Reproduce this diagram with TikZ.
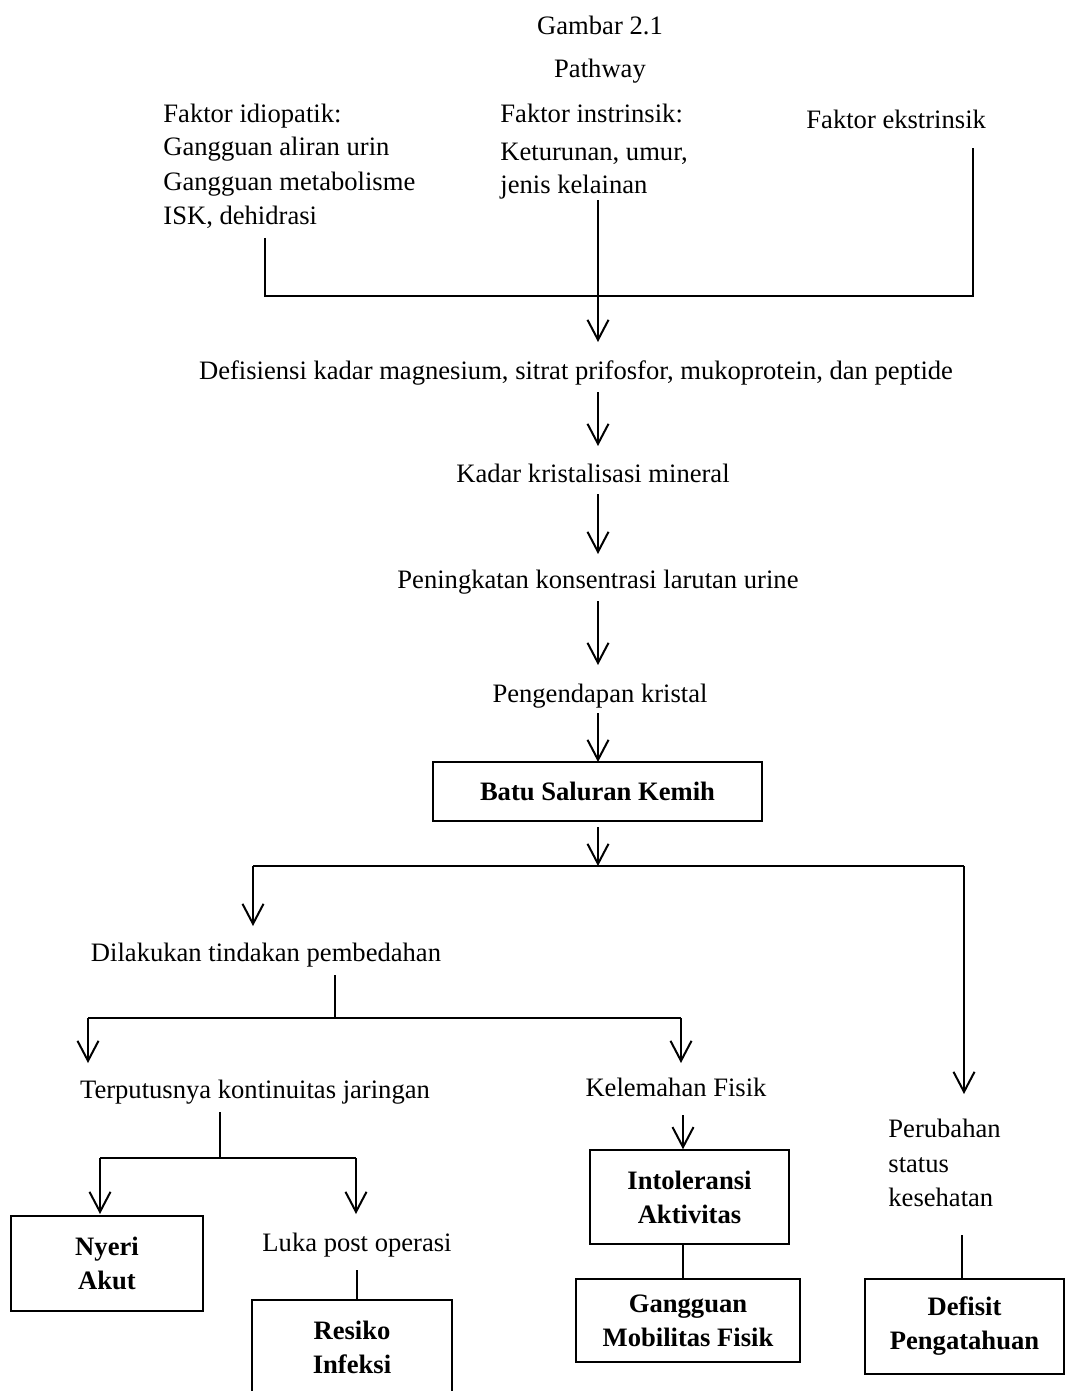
\documentclass[tikz,border=0pt]{standalone}
\usepackage{fontspec}
\setmainfont{Liberation Serif}
\usetikzlibrary{arrows.meta}
\begin{document}
\begin{tikzpicture}[x=0.5pt,y=-0.5pt,
  every node/.style={font=\fontsize{13.3}{17}\selectfont, inner sep=0pt},
  txt/.style={anchor=base},
  txtl/.style={anchor=base west},
  conn/.style={line width=1pt},
  arr/.style={line width=1pt, -{Straight Barb[length=10pt,width=10.5pt,line width=1pt]}},
  bx/.style={draw, line width=0.75pt, align=center, font=\fontsize{13.3}{17}\selectfont\bfseries}]
\useasboundingbox (0,0) rectangle (1065,1391);
\clip (0,0) rectangle (1065,1391);

% titles
\node[txt] (title) at (600,35) {Gambar 2.1};
\node[txt] (pw) at (600,78) {Pathway};

% factors
\node[txtl] (i1) at (163,123) {Faktor idiopatik:};
\node[txtl] (i2) at (163,156) {Gangguan aliran urin};
\node[txtl] (i3) at (163,191) {Gangguan metabolisme};
\node[txtl] (i4) at (163,225) {ISK, dehidrasi};
\node[txtl] (n1) at (500,123) {Faktor instrinsik:};
\node[txtl] (n2) at (500,161) {Keturunan, umur,};
\node[txtl] (n3) at (500,194) {jenis kelainan};
\node[txtl] (e1) at (806,129) {Faktor ekstrinsik};

\coordinate (ia) at (265,238);
\coordinate (na) at (598,200);
\coordinate (ea) at (973,148);
\coordinate (ib) at (265,296);
\coordinate (nb) at (598,296);
\coordinate (eb) at (973,296);
\coordinate (a1) at (598,342);
\draw[conn] (ia) -- (ib) -- (eb) -- (ea);
\draw[conn] (na) -- (nb);
\draw[arr] (nb) -- (a1);

% main chain
\node[txt] (def) at (576,379) {Defisiensi kadar magnesium, sitrat prifosfor, mukoprotein, dan peptide};
\coordinate (d1) at (598,392);
\coordinate (d2) at (598,446);
\draw[arr] (d1) -- (d2);
\node[txt] (kad) at (593,482) {Kadar kristalisasi mineral};
\coordinate (k1) at (598,494);
\coordinate (k2) at (598,554);
\draw[arr] (k1) -- (k2);
\node[txt] (pen) at (598,588) {Peningkatan konsentrasi larutan urine};
\coordinate (p1) at (598,601);
\coordinate (p2) at (598,665);
\draw[arr] (p1) -- (p2);
\node[txt] (end) at (600,702) {Pengendapan kristal};
\coordinate (q1) at (598,713);
\node[bx, minimum width=164.5pt, minimum height=29.5pt] (batu) at (597.5,791.5) {Batu Saluran Kemih};
\draw[arr] (q1) -- (598,762);

% branch from batu
\coordinate (b1) at (598,827);
\coordinate (bj) at (598,866);
\coordinate (bl) at (253,866);
\coordinate (br) at (964,866);
\coordinate (blA) at (253,926);
\coordinate (brA) at (964,1094);
\draw[arr] (b1) -- (bj);
\draw[conn] (bl) -- (br);
\draw[arr] (bl) -- (blA);
\draw[arr] (br) -- (brA);

\node[txt] (dil) at (266,961) {Dilakukan tindakan pembedahan};
\coordinate (l1) at (335,975);
\coordinate (l2) at (335,1018);
\coordinate (l3) at (88,1018);
\coordinate (l4) at (681,1018);
\draw[conn] (l1) -- (l2);
\draw[conn] (l3) -- (l4);
\draw[arr] (l3) -- (88,1063);
\draw[arr] (l4) -- (681,1063);

\node[txt] (ter) at (255,1098) {Terputusnya kontinuitas jaringan};
\node[txt] (kel) at (676,1096) {Kelemahan Fisik};

% left sub-branch
\coordinate (t1) at (220,1112);
\coordinate (t2) at (220,1158);
\coordinate (t3) at (100,1158);
\coordinate (t4) at (356,1158);
\draw[conn] (t1) -- (t2);
\draw[conn] (t3) -- (t4);
\node[bx, minimum width=96pt, minimum height=47.5pt] (nyeri) at (107,1263.5) {Nyeri\\Akut};
\draw[arr] (t3) -- (100,1214);
\draw[arr] (t4) -- (356,1214);
\node[txt] (luka) at (357,1251) {Luka post operasi};
\coordinate (u1) at (357,1270);
\node[bx, minimum width=100pt, minimum height=47.5pt] (res) at (352,1347.5) {Resiko\\Infeksi};
\draw[conn] (u1) -- (res.north -| u1);

% middle sub-branch
\coordinate (m1) at (683,1115);
\node[bx, minimum width=99.5pt, minimum height=47pt] (into) at (689.5,1197) {Intoleransi\\Aktivitas};
\draw[arr] (m1) -- (into.north -| m1);
\node[bx, minimum width=112pt, minimum height=41.5pt] (gang) at (688,1320.5) {Gangguan\\Mobilitas Fisik};
\draw[conn] (into.south -| m1) -- (gang.north -| m1);

% right sub-branch
\node[txtl] (r1) at (888,1137) {Perubahan};
\node[txtl] (r2) at (888,1172) {status};
\node[txtl] (r3) at (888,1206) {kesehatan};
\coordinate (s1) at (962,1235);
\node[bx, minimum width=99.5pt, minimum height=47.5pt] (defi) at (964.5,1326.5) {Defisit\\Pengatahuan};
\draw[conn] (s1) -- (defi.north -| s1);
\end{tikzpicture}
\end{document}
